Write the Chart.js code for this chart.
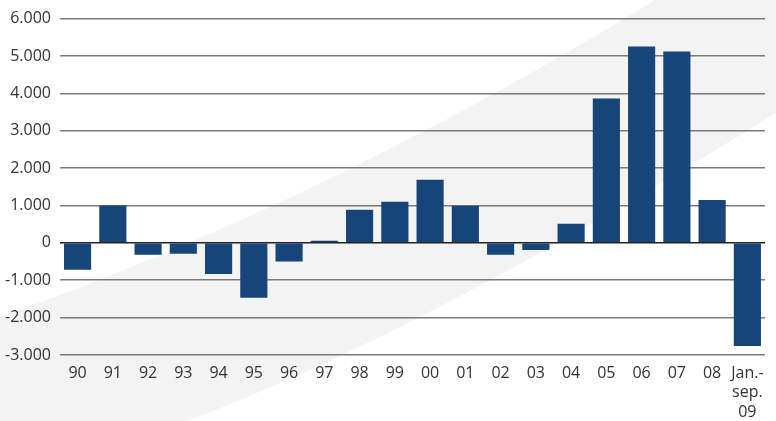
<!DOCTYPE html>
<html>
<head>
<meta charset="utf-8">
<script src="https://cdn.jsdelivr.net/npm/chart.js@4/dist/chart.umd.min.js"></script>
<style>
  html, body { margin: 0; padding: 0; background: #fff; }
  #wrap { width: 776px; height: 421px; position: relative; }
</style>
</head>
<body>
<div id="wrap"><canvas id="c" width="776" height="421"></canvas></div>
<script>
const categories = ["90","91","92","93","94","95","96","97","98","99","00","01","02","03","04","05","06","07","08",["Jan.-","sep.","09"]];
const values = [-720, 1000, -320, -290, -830, -1465, -500, 55, 885, 1100, 1690, 995, -320, -190, 510, 3860, 5255, 5120, 1150, -2760];
const yTickMin = -3000;
const yTickMax = 6000;
const yTickStep = 1000;

const swoosh = {
  id: 'swoosh',
  beforeDraw(chart) {
    const ctx = chart.ctx, w = chart.width, h = chart.height;
    ctx.save();
    ctx.fillStyle = '#ffffff';
    ctx.fillRect(0, 0, w, h);
    ctx.fillStyle = '#f3f3f3';
    ctx.beginPath();
    ctx.moveTo(0, h * 0.753);
    ctx.quadraticCurveTo(w * 0.425, h * 0.475, w * 0.844, 0);
    ctx.lineTo(w, 0);
    ctx.lineTo(w, h * 0.268);
    ctx.quadraticCurveTo(w * 0.554, h * 0.784, w * 0.241, h);
    ctx.lineTo(0, h);
    ctx.closePath();
    ctx.fill();
    ctx.restore();
  }
};

new Chart(document.getElementById('c'), {
  type: 'bar',
  data: {
    labels: categories,
    datasets: [{
      data: values,
      backgroundColor: '#174479',
      barPercentage: 0.77,
      categoryPercentage: 1.0
    }]
  },
  options: {
    responsive: false,
    animation: false,
    devicePixelRatio: 1,
    layout: { padding: { top: 10, right: 11, left: -4, bottom: 0 } },
    plugins: { legend: { display: false }, tooltip: { enabled: false } },
    scales: {
      x: {
        grid: { display: false, drawTicks: false },
        border: { display: false },
        afterFit: (scale) => { scale.height = 66; },
        ticks: {
          color: '#333333',
          font: { family: 'Open Sans', size: 16, lineHeight: 1.2 },
          padding: 9,
          maxRotation: 0,
          autoSkip: false
        }
      },
      y: {
        min: yTickMin,
        max: yTickMax,
        border: { display: false },
        grid: {
          drawTicks: false,
          color: (c) => c.tick && c.tick.value === 0 ? '#222222' : '#7a7a7a',
          lineWidth: (c) => c.tick && c.tick.value === 0 ? 1.5 : 1.6
        },
        ticks: {
          stepSize: yTickStep,
          color: '#333333',
          font: { family: 'Open Sans', size: 16 },
          padding: 9,
          callback: (v) => {
            const s = Math.abs(v).toString().replace(/\B(?=(\d{3})+(?!\d))/g, '.');
            return (v < 0 ? '-' : '') + s;
          }
        }
      }
    }
  },
  plugins: [swoosh]
});
</script>
</body>
</html>
